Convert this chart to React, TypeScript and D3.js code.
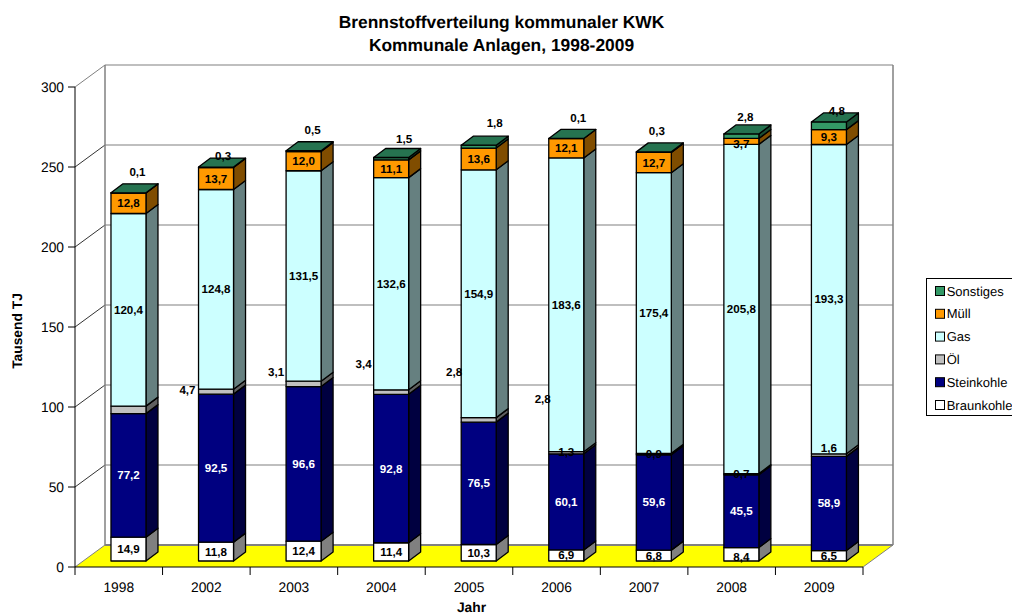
import React from "react";
import * as d3 from "d3";

const years = ["1998", "2002", "2003", "2004", "2005", "2006", "2007", "2008", "2009"];
const braunkohle = [14.9, 11.8, 12.4, 11.4, 10.3, 6.9, 6.8, 8.4, 6.5];
const steinkohle = [77.2, 92.5, 96.6, 92.8, 76.5, 60.1, 59.6, 45.5, 58.9];
const oel = [4.7, 3.1, 3.4, 2.8, 2.8, 1.3, 0.9, 0.7, 1.6];
const gas = [120.4, 124.8, 131.5, 132.6, 154.9, 183.6, 175.4, 205.8, 193.3];
const muell = [12.8, 13.7, 12.0, 11.1, 13.6, 12.1, 12.7, 3.7, 9.3];
const sonstiges = [0.1, 0.3, 0.5, 1.5, 1.8, 0.1, 0.3, 2.8, 4.8];
const yTicks = [0, 50, 100, 150, 200, 250, 300];

const seriesNames = ["Braunkohle", "Steinkohle", "Öl", "Gas", "Müll", "Sonstiges"];
const seriesValues = [braunkohle, steinkohle, oel, gas, muell, sonstiges];
const fronts = ["#FFFFFF", "#000080", "#C0C0C0", "#CCFFFF", "#FF9900", "#339966"];
const sides = ["#808080", "#000040", "#606060", "#668080", "#804D00", "#1A4D33"];
const capColor = "#267350";
const labelColors = ["#000", "#fff", "#000", "#000", "#000", "#000"];

// hand-placed label nudges, as the original chart's labels were moved around
const oelNudge: [number, number][] = [[59, -20], [60, -20], [60, -20], [63, -20], [64, -21], [0, -1], [0, 0], [0, 0], [0, -7]];
const topNudge: [number, number][] = [[9, -21], [7, -11], [9, -21], [13, -20], [16, -24], [12, -21], [3, -21], [4, -19], [8, -15]];

const FONT = "'Liberation Sans', Arial, sans-serif";
const W = 1012, H = 613;
const DX = 30, DY = -22;      // chart depth
const barDX = 12, barDY = -9; // bar depth
const barOX = 9.7, barOY = -6; // bar offset on the floor
const barW = 35;

const x = d3.scaleBand<string>().domain(years).range([75, 863]);
const y = d3.scaleLinear().domain([0, 300]).range([567, 87]);

const rows = years.map((yr, i) => {
  const r: Record<string, number | string> = { year: yr };
  seriesNames.forEach((s, k) => { r[s] = seriesValues[k][i]; });
  return r;
});
const stacked = d3.stack<any>().keys(seriesNames)(rows);
const pts = (p: [number, number][]) => p.map((q) => q.join(",")).join(" ");

export default function App() {
  const x0 = x.range()[0], x1 = x.range()[1];
  const y0 = y(0), yT = y(300);
  const bars = years.map((yr, i) => {
    const left = (x(yr) as number) + x.bandwidth() / 2 + barOX - barW / 2;
    const right = left + barW;
    return { yr, i, left, right };
  });
  return (
    <svg width={W} height={H} viewBox={`0 0 ${W} ${H}`} fontFamily={FONT} textRendering="geometricPrecision"
      style={{ position: "fixed", left: 0, top: 0, display: "block", background: "#fff" }}>
      <polygon points={pts([[x0, y0], [x1, y0], [x1 + DX, y0 + DY], [x0 + DX, y0 + DY]])} fill="#FFFF00" />
      {yTicks.map((t) => (
        <g key={t}>
          <line x1={x0} y1={y(t)} x2={x0 + DX} y2={y(t) + DY} stroke={t === 300 || t === 0 ? "#808080" : "#333"} strokeWidth={1} />
          <line x1={x0 + DX} y1={y(t) + DY} x2={x1 + DX} y2={y(t) + DY} stroke="#808080" strokeWidth={t === 0 ? 2 : 1.2} />
          <line x1={68} y1={y(t)} x2={x0} y2={y(t)} stroke="#000" />
          <text x={64} y={y(t) + 5} textAnchor="end" fontSize={13.8} fill="#000">{t}</text>
        </g>
      ))}
      <line x1={x0 + DX} y1={yT + DY} x2={x0 + DX} y2={y0 + DY} stroke="#808080" strokeWidth={1.5} />
      <line x1={x1 + DX} y1={yT + DY} x2={x1 + DX} y2={y0 + DY} stroke="#808080" strokeWidth={1.5} />
      <line x1={x1} y1={y0} x2={x1 + DX} y2={y0 + DY} stroke="#808080" strokeWidth={1} />
      <line x1={x0} y1={yT} x2={x0} y2={y0} stroke="#000" />
      <line x1={x0} y1={y0} x2={x1} y2={y0} stroke="#000" />
      {years.map((yr) => (
        <g key={yr}>
          <line x1={x(yr)} y1={y0} x2={x(yr)} y2={y0 + 8} stroke="#000" />
          <text x={(x(yr) as number) + x.bandwidth() / 2} y={y0 + 25} textAnchor="middle" fontSize={13.8}>{yr}</text>
        </g>
      ))}
      <line x1={x1} y1={y0} x2={x1} y2={y0 + 8} stroke="#000" />

      {bars.map(({ yr, i, left, right }) => (
        <g key={yr} stroke="#000" strokeWidth={1.3} strokeLinejoin="round">
          {stacked.map((s, k) => {
            const a = y(s[i][0]) + barOY, b = y(s[i][1]) + barOY;
            return (
              <g key={k}>
                <polygon points={pts([[right, a], [right + barDX, a + barDY], [right + barDX, b + barDY], [right, b]])} fill={sides[k]} />
                <rect x={left} y={b} width={barW} height={a - b} fill={fronts[k]} />
              </g>
            );
          })}
          {(() => {
            const t = y(stacked[stacked.length - 1][i][1]) + barOY;
            return <polygon points={pts([[left, t], [right, t], [right + barDX, t + barDY], [left + barDX, t + barDY]])} fill={capColor} />;
          })()}
        </g>
      ))}

      {bars.map(({ yr, i, left }) => (
        <g key={yr} fontSize={11.6} fontWeight="bold" textAnchor="middle">
          {stacked.map((s, k) => {
            const cx = left + barW / 2;
            const cy = (y(s[i][0]) + y(s[i][1])) / 2 + barOY;
            const n = k === 2 ? oelNudge[i] : k === 5 ? topNudge[i] : [0, 0];
            const extra = k === 4 && i === 7 ? 3 : k === 0 && i === 7 ? 3 : 0;
            return (
              <text key={k} x={cx + n[0]} y={cy + n[1] + extra + 4} fill={labelColors[k]}>
                {d3.format(".1f")(s[i][1] - s[i][0]).replace(".", ",")}
              </text>
            );
          })}
        </g>
      ))}

      <text textAnchor="middle" fontSize={17.4} fontWeight="bold">
        <tspan x={501.5} y={28}>Brennstoffverteilung kommunaler KWK</tspan>
        <tspan x={501.5} y={50.5}>Kommunale Anlagen, 1998-2009</tspan>
      </text>
      <text transform="translate(22,331) rotate(-90)" textAnchor="middle" fontSize={13.8} fontWeight="bold">Tausend TJ</text>
      <text x={471.5} y={611.5} textAnchor="middle" fontSize={13.8} fontWeight="bold">Jahr</text>

      <rect x={926.5} y={278.5} width={100} height={137} fill="#fff" stroke="#000" />
      {[...seriesNames].reverse().map((name, j) => {
        const k = seriesNames.length - 1 - j;
        const ly = 291 + j * 22.8;
        return (
          <g key={name}>
            <rect x={935.5} y={ly - 4.5} width={9} height={9} fill={fronts[k]} stroke="#000" />
            <text x={946.7} y={ly + 4.5} fontSize={13}>{name}</text>
          </g>
        );
      })}
    </svg>
  );
}
